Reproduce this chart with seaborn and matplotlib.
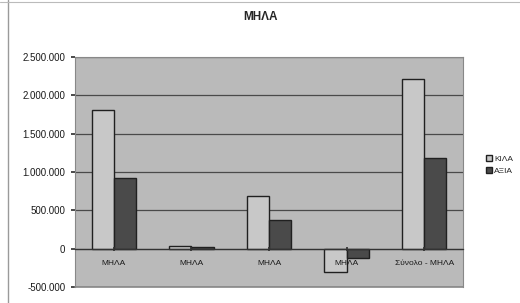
import matplotlib
matplotlib.use("Agg")
import matplotlib.pyplot as plt
import matplotlib.ticker as mticker
import seaborn as sns
import pandas as pd

categories = ["ΜΗΛΑ", "ΜΗΛΑ ", "ΜΗΛΑ  ", "ΜΗΛΑ   ", "Σύνολο - ΜΗΛΑ"]
kila = [1810000, 30000, 690000, -303000, 2213000]
axia = [928000, 20000, 369000, -126000, 1185000]
series_names = ["ΚΙΛΑ", "ΑΞΙΑ"]
yticks = [-500000, 0, 500000, 1000000, 1500000, 2000000, 2500000]

df = pd.DataFrame({
    "cat": categories * 2,
    "value": kila + axia,
    "series": [series_names[0]] * 5 + [series_names[1]] * 5,
})

sns.set_theme(style="white")
plt.rcParams["font.family"] = ["Liberation Sans", "DejaVu Sans"]

fig = plt.figure(figsize=(5.2, 3.03), dpi=100)
fig.patch.set_facecolor("white")
ax = fig.add_axes([75/520, (303-287)/303, (463-75)/520, (287-57)/303])
ax.set_facecolor("#bababa")

sns.barplot(data=df, x="cat", y="value", hue="series", order=categories,
            hue_order=series_names, palette=["#c8c8c8", "#4a4a4a"],
            width=0.57, edgecolor="#202020", linewidth=1.0, ax=ax,
            legend=True, zorder=3)

ax.set_ylim(-500000, 2500000)
ax.set_yticks(yticks)
ax.yaxis.set_major_formatter(mticker.FuncFormatter(lambda v, p: f"{int(v):,}".replace(",", ".")))
ax.yaxis.grid(True, color="#4a4a4a", linewidth=0.9, zorder=1)
ax.set_axisbelow(True)
ax.tick_params(axis="y", labelsize=7, length=3, color="#333333", pad=4, left=True,
               labelcolor="#1a1a1a")
ax.tick_params(axis="x", labelsize=6, length=3, color="#333333", pad=7, bottom=True,
               direction="inout", labelcolor="#1a1a1a")
ax.set_xticks(range(len(categories)))
ax.set_xticklabels([c.strip() for c in categories])
ax.xaxis.set_zorder(5)
ax.set_xlabel("")
ax.set_ylabel("")

for s in ["top", "right", "left"]:
    ax.spines[s].set_color("#888888")
    ax.spines[s].set_linewidth(0.8)
ax.spines["bottom"].set_position(("data", 0))
ax.spines["bottom"].set_color("#333333")
ax.spines["bottom"].set_linewidth(0.9)
ax.spines["bottom"].set_zorder(4)
# frame bottom line
ax.axhline(-500000, color="#888888", linewidth=1.2, clip_on=False)

leg = ax.legend(loc="center left", bbox_to_anchor=(1.04, 0.53), frameon=False,
                fontsize=6, handlelength=0.7, handleheight=0.7, handletextpad=0.3,
                labelspacing=0.5)

fig.text(0.5, 0.945, "ΜΗΛΑ", ha="center", va="center", fontsize=8.5, fontweight="bold")

# page frame lines like the scanned original
fig.add_artist(plt.Line2D([0.016, 0.016], [0, 1], color="#9a9a9a", linewidth=1.0))
fig.add_artist(plt.Line2D([0, 1], [0.995, 0.995], color="#bbbbbb", linewidth=0.8))

fig.savefig("out.png", dpi=100, facecolor="white")
